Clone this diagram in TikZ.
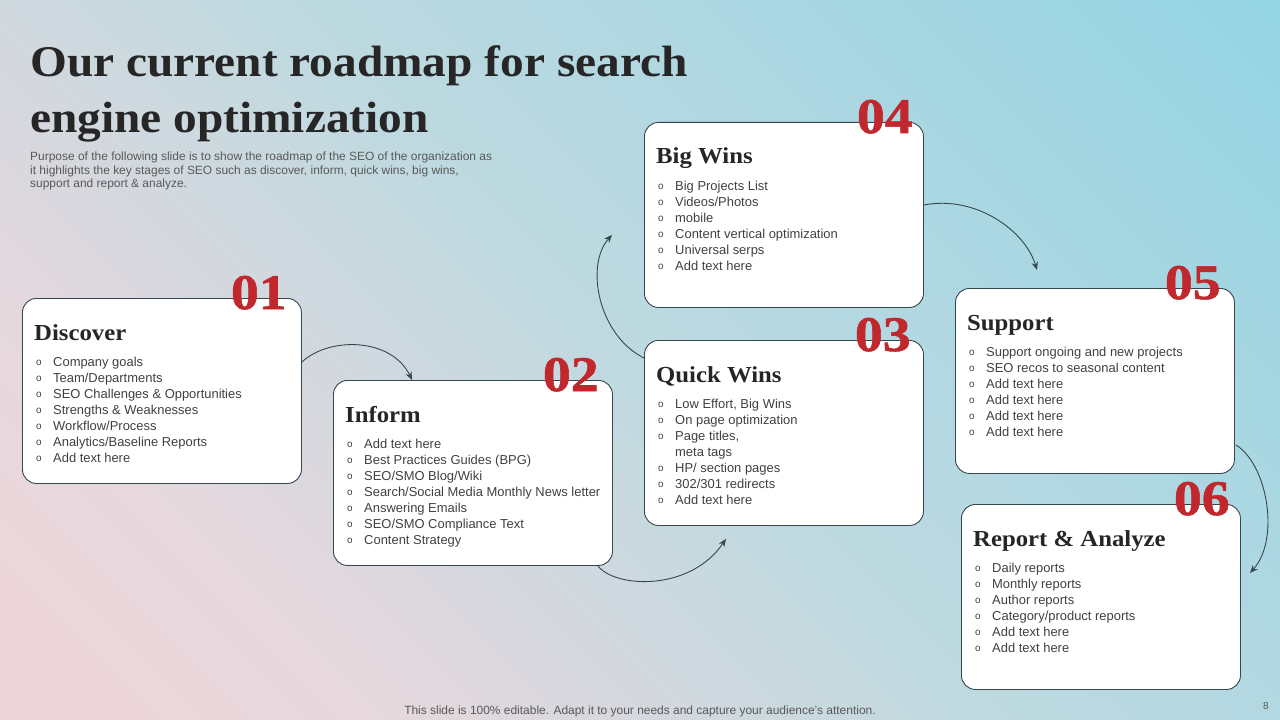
\documentclass[tikz,border=0pt]{standalone}
\usepackage{fontspec}
\setmainfont{Liberation Sans}
\newfontfamily\serifb[FakeStretch=1.08]{Liberation Serif}
\newfontfamily\numfont[FakeStretch=1.12,FakeBold=1.2]{Liberation Serif}
\usetikzlibrary{arrows.meta,calc}
\definecolor{bgpink}{HTML}{F6CFD4}
\definecolor{bgpinkb}{HTML}{E6D8DD}
\definecolor{bgmid}{HTML}{BED9E0}
\definecolor{bgcyan}{HTML}{84D3E5}
\definecolor{cardline}{HTML}{37474F}
\definecolor{numred}{HTML}{C0282D}
\definecolor{headgrey}{HTML}{262626}
\definecolor{itemgrey}{HTML}{404040}
\definecolor{subgrey}{HTML}{595959}
\definecolor{arrowcol}{HTML}{37474F}
\pgfdeclarehorizontalshading{bgshade}{100bp}{color(0bp)=(bgpink); color(28bp)=(bgpinkb); color(50bp)=(bgmid); color(100bp)=(bgcyan)}
\newcommand\itm[1]{\strut\makebox[17bp][l]{\raisebox{0.6bp}{\fontsize{10}{10}\selectfont o}}#1}
\tikzset{
 card/.style={draw=cardline, line width=0.9bp, fill=white, rounded corners=14bp, minimum width=279bp, minimum height=185bp, anchor=north west, inner sep=0pt},
 num/.style={anchor=base east, text=numred, font=\numfont\bfseries\fontsize{50}{50}\selectfont, inner sep=0pt},
 head/.style={anchor=base west, text=headgrey, font=\serifb\bfseries\fontsize{23}{23}\selectfont, inner sep=0pt},
 items/.style={anchor=north west, align=left, text=itemgrey, font=\fontsize{13}{16}\selectfont, inner sep=0pt},
 flow/.style={draw=arrowcol, line width=0.9bp, -{Stealth[length=8bp,width=6.5bp]}},
 titletext/.style={anchor=base west, text=headgrey, font=\serifb\bfseries\fontsize{44}{54}\selectfont, inner sep=0pt},
 subtext/.style={anchor=base west, align=left, text=subgrey, font=\fontsize{12}{14}\selectfont, inner sep=0pt},
}
\begin{document}
\begin{tikzpicture}[x=1bp,y=-1bp]
\useasboundingbox (0,0) rectangle (1280,720);
\shade[shading=bgshade, shading angle=45] (0,0) rectangle (1280,720);

% title
\node[titletext] (t1) at (30,77) {Our current roadmap for search};
\node[titletext] (t2) at (30,133) {engine optimization};
\node[subtext] (sub) at (30,188) {Purpose of the following slide is to show the roadmap of the SEO of the organization as\\it highlights the key stages of SEO such as discover, inform, quick wins, big wins,\\support and report \& analyze.};

% cards
\node[card] (b1) at (22,298) {};
\node[card] (b2) at (333,380) {};
\node[card] (b3) at (644,340) {};
\node[card] (b4) at (644,122) {};
\node[card] (b5) at (955,288) {};
\node[card] (b6) at (961,504) {};

% numbers
\node[num] (n1) at ($(b1.north east)+(-15,11)$) {01};
\node[num] (n2) at ($(b2.north east)+(-14,11)$) {02};
\node[num] (n3) at ($(b3.north east)+(-13,11)$) {03};
\node[num] (n4) at ($(b4.north east)+(-11,11)$) {04};
\node[num] (n5) at ($(b5.north east)+(-14,11)$) {05};
\node[num] (n6) at ($(b6.north east)+(-11,11)$) {06};

% headings
\node[head] (h1) at ($(b1.north west)+(12,42)$) {Discover};
\node[head] (h2) at ($(b2.north west)+(12,42)$) {Inform};
\node[head] (h3) at ($(b3.north west)+(12,42)$) {Quick Wins};
\node[head] (h4) at ($(b4.north west)+(12,42)$) {Big Wins};
\node[head] (h5) at ($(b5.north west)+(12,42)$) {Support};
\node[head] (h6) at ($(b6.north west)+(12,42)$) {Report \& Analyze};

% items
\node[items] (i1) at ($(b1.north west)+(14,57)$) {\itm{Company goals}\\\itm{Team/Departments}\\\itm{SEO Challenges \& Opportunities}\\\itm{Strengths \& Weaknesses}\\\itm{Workflow/Process}\\\itm{Analytics/Baseline Reports}\\\itm{Add text here}};
\node[items] (i2) at ($(b2.north west)+(14,57)$) {\itm{Add text here}\\\itm{Best Practices Guides (BPG)}\\\itm{SEO/SMO Blog/Wiki}\\\itm{Search/Social Media Monthly News letter}\\\itm{Answering Emails}\\\itm{SEO/SMO Compliance Text}\\\itm{Content Strategy}};
\node[items] (i3) at ($(b3.north west)+(14,57)$) {\itm{Low Effort, Big Wins}\\\itm{On page optimization}\\\itm{Page titles,}\\\strut\hspace*{17bp}meta tags\\\itm{HP/ section pages}\\\itm{302/301 redirects}\\\itm{Add text here}};
\node[items] (i4) at ($(b4.north west)+(14,57)$) {\itm{Big Projects List}\\\itm{Videos/Photos}\\\itm{mobile}\\\itm{Content vertical optimization}\\\itm{Universal serps}\\\itm{Add text here}};
\node[items] (i5) at ($(b5.north west)+(14,57)$) {\itm{Support ongoing and new projects}\\\itm{SEO recos to seasonal content}\\\itm{Add text here}\\\itm{Add text here}\\\itm{Add text here}\\\itm{Add text here}};
\node[items] (i6) at ($(b6.north west)+(14,57)$) {\itm{Daily reports}\\\itm{Monthly reports}\\\itm{Author reports}\\\itm{Category/product reports}\\\itm{Add text here}\\\itm{Add text here}};

% connectors
\draw[flow] ($(b1.north east)+(0,64)$) .. controls (330,336) and (392,338) .. ($(b2.north west)+(79,0)$);
\draw[flow] ($(b2.south east)+(-15,0)$) .. controls (615,588) and (690,592) .. ($(b3.south west)+(82,13)$);
\draw[flow] ($(b3.north west)+(0,18)$) .. controls (598,335) and (585,265) .. ($(b4.south west)+(-32,-73)$);
\draw[flow] ($(b4.north east)+(0,83)$) .. controls (975,195) and (1025,230) .. ($(b5.north west)+(82,-18)$);
\draw[flow] ($(b5.south east)+(1,-29)$) .. controls (1268,465) and (1280,540) .. ($(b6.north east)+(9,69)$);

% footer
\node[anchor=base, text=subgrey, font=\fontsize{12}{14}\selectfont, inner sep=0pt] (foot) at (640,714) {This slide is 100\% editable. Adapt it to your needs and capture your audience's attention.};
\node[anchor=base, text=subgrey, font=\fontsize{10}{12}\selectfont, inner sep=0pt] (pg) at (1266,709) {8};
\end{tikzpicture}
\end{document}
